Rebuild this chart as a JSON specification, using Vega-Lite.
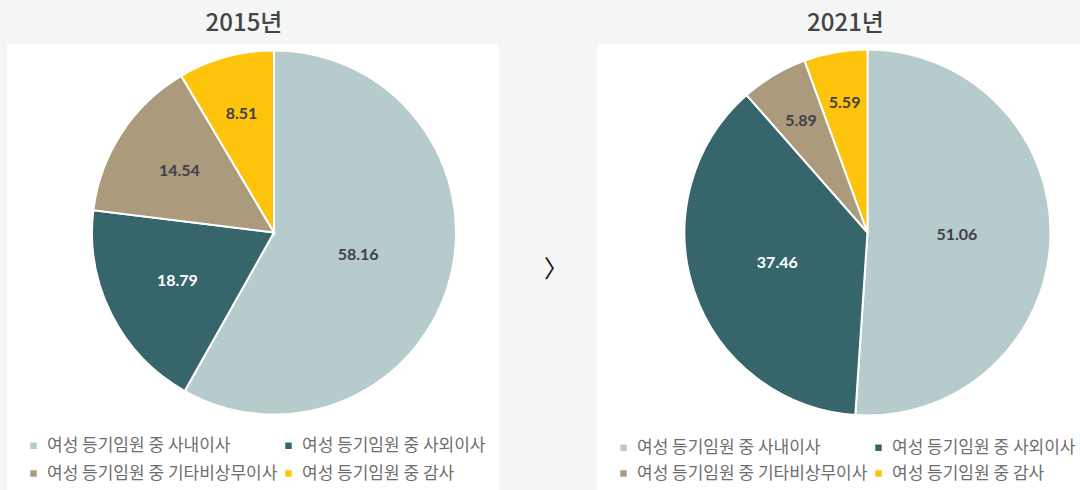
{
  "$schema": "https://vega.github.io/schema/vega-lite/v6.json",
  "background": "#f4f6f6",
  "padding": {"left": 7, "top": 12, "right": 0, "bottom": 0},
  "autosize": {"type": "pad"},
  "config": {"view": {"stroke": null}, "font": "Noto Sans CJK KR"},
  "datasets": {
    "d": [
      {"year": 2015, "cat": "여성 등기임원 중 사내이사", "value": 58.16, "ord": 1},
      {"year": 2015, "cat": "여성 등기임원 중 사외이사", "value": 18.79, "ord": 2},
      {"year": 2015, "cat": "여성 등기임원 중 기타비상무이사", "value": 14.54, "ord": 3},
      {"year": 2015, "cat": "여성 등기임원 중 감사", "value": 8.51, "ord": 4},
      {"year": 2021, "cat": "여성 등기임원 중 사내이사", "value": 51.06, "ord": 1},
      {"year": 2021, "cat": "여성 등기임원 중 사외이사", "value": 37.46, "ord": 2},
      {"year": 2021, "cat": "여성 등기임원 중 기타비상무이사", "value": 5.89, "ord": 3},
      {"year": 2021, "cat": "여성 등기임원 중 감사", "value": 5.59, "ord": 4}
    ]
  },
  "spacing": 0,
  "bounds": "flush",
  "hconcat": [
    {
      "width": 492,
      "height": 446,
      "view": {"fill": "white", "stroke": null},
      "title": {"text": "2015년", "fontSize": 24, "fontWeight": 500, "color": "#444444", "offset": 8, "dx": -9},
      "data": {"name": "d"},
      "transform": [{"filter": "datum.year == 2015"}],
      "encoding": {
        "theta": {"field": "value", "type": "quantitative", "stack": true},
        "order": {"field": "ord", "type": "quantitative"},
        "x": {"datum": 0.5427, "type": "quantitative", "scale": {"domain": [0, 1]}, "axis": null},
        "y": {"datum": 0.5774, "type": "quantitative", "scale": {"domain": [0, 1]}, "axis": null}
      },
      "layer": [
        {
          "mark": {"type": "arc", "outerRadius": 182, "stroke": "white", "strokeWidth": 2},
          "encoding": {
            "color": {
              "field": "cat", "type": "nominal",
              "scale": {
                "domain": ["여성 등기임원 중 사내이사", "여성 등기임원 중 사외이사", "여성 등기임원 중 기타비상무이사", "여성 등기임원 중 감사"],
                "range": ["#b5cbcc", "#36666b", "#ab9a7b", "#fec40c"]
              },
              "legend": {"orient": "none", "direction": "horizontal", "legendX": 18, "legendY": 393, "columns": 2, "title": null, "symbolType": "square", "symbolSize": 42, "symbolStrokeWidth": 0, "labelFontSize": 17, "labelColor": "#6d6d6d", "labelFont": "Noto Sans CJK KR", "rowPadding": 10, "columnPadding": 2, "labelOffset": 5, "padding": 0, "labelLimit": 400}
            }
          }
        },
        {
          "mark": {"type": "text", "font": "Lato", "fontWeight": "bold", "fontSize": 16},
          "encoding": {
            "text": {"field": "value", "type": "quantitative", "format": ".2f"},
            "radius": {"field": "value", "type": "quantitative", "scale": {"type": "log", "domain": [5.59, 58.16], "range": [131, 87]}},
            "fill": {"condition": {"test": "datum.cat == '여성 등기임원 중 사외이사'", "value": "#ffffff"}, "value": "#3f4048"}
          }
        }
      ]
    },
    {
      "width": 98,
      "height": 446,
      "data": {"values": [{"s": "〉"}]},
      "mark": {"type": "text", "fontSize": 24, "font": "Noto Sans CJK KR", "color": "#111111", "dx": 8, "dy": 3},
      "encoding": {"text": {"field": "s", "type": "nominal"}}
    },
    {
      "width": 483,
      "height": 446,
      "view": {"fill": "white", "stroke": null},
      "title": {"text": "2021년", "fontSize": 24, "fontWeight": 500, "color": "#444444", "offset": 8, "dx": 7},
      "data": {"name": "d"},
      "transform": [{"filter": "datum.year == 2021"}],
      "encoding": {
        "theta": {"field": "value", "type": "quantitative", "stack": true},
        "order": {"field": "ord", "type": "quantitative"},
        "x": {"datum": 0.56, "type": "quantitative", "scale": {"domain": [0, 1]}, "axis": null},
        "y": {"datum": 0.5774, "type": "quantitative", "scale": {"domain": [0, 1]}, "axis": null}
      },
      "layer": [
        {
          "mark": {"type": "arc", "outerRadius": 183, "stroke": "white", "strokeWidth": 2},
          "encoding": {
            "color": {
              "field": "cat", "type": "nominal",
              "scale": {
                "domain": ["여성 등기임원 중 사내이사", "여성 등기임원 중 사외이사", "여성 등기임원 중 기타비상무이사", "여성 등기임원 중 감사"],
                "range": ["#b5cbcc", "#36666b", "#ab9a7b", "#fec40c"]
              },
              "legend": {"orient": "none", "direction": "horizontal", "legendX": 18, "legendY": 395, "columns": 2, "title": null, "symbolType": "square", "symbolSize": 42, "symbolStrokeWidth": 0, "labelFontSize": 17, "labelColor": "#6d6d6d", "labelFont": "Noto Sans CJK KR", "rowPadding": 8, "columnPadding": 2, "labelOffset": 5, "padding": 0, "labelLimit": 400}
            }
          }
        },
        {
          "mark": {"type": "text", "font": "Lato", "fontWeight": "bold", "fontSize": 16},
          "encoding": {
            "text": {"field": "value", "type": "quantitative", "format": ".2f"},
            "radius": {"field": "value", "type": "quantitative", "scale": {"type": "log", "domain": [5.59, 58.16], "range": [131, 87]}},
            "fill": {"condition": {"test": "datum.cat == '여성 등기임원 중 사외이사'", "value": "#ffffff"}, "value": "#3f4048"}
          }
        }
      ]
    }
  ],
  "resolve": {
    "scale": {"x": "independent", "y": "independent", "theta": "independent", "radius": "independent"},
    "legend": {"color": "independent"}
  }
}
